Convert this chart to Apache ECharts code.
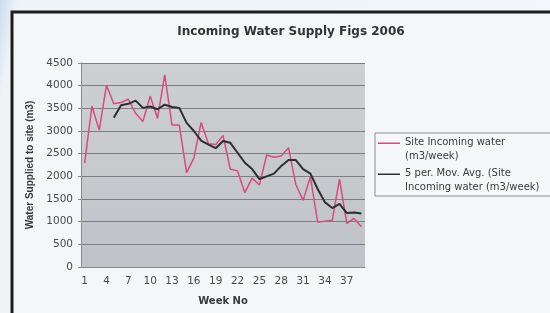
<!DOCTYPE html>
<html>
<head>
<meta charset="utf-8">
<script src="https://cdn.jsdelivr.net/npm/echarts@6/dist/echarts.min.js"></script>
<style>
    html, body { margin: 0; padding: 0; }
    body {
        width: 550px;
        height: 313px;
        overflow: hidden;
        background: linear-gradient(100deg, #c9dcec 0%, #eef3f8 3%, #f4f6f9 100%);
    }
    #chart { width: 550px; height: 313px; }
</style>
</head>
<body>
<div id="chart"></div>
<script>
// week numbers along the x axis
var weeks = [];
for (var w = 1; w <= 39; w++) weeks.push(String(w));

// Site incoming water (m3/week)
var incoming = [2290, 3550, 3020, 4010, 3600, 3630, 3700, 3390, 3210, 3770,
    3280, 4240, 3130, 3130, 2080, 2400, 3190, 2720, 2700, 2900,
    2160, 2120, 1640, 1960, 1810, 2470, 2420, 2450, 2630, 1820,
    1470, 1990, 990, 1010, 1030, 1940, 960, 1070, 890];

// 5 period moving average, starts at week 5
var movAvg = [null, null, null, null, 3290, 3570, 3600, 3670, 3510, 3540,
    3480, 3580, 3530, 3510, 3180, 3000, 2790, 2700, 2620, 2780,
    2740, 2520, 2300, 2160, 1940, 2000, 2060, 2230, 2360, 2360,
    2160, 2060, 1720, 1430, 1300, 1390, 1190, 1200, 1180];

var legendNames = ['Site Incoming water\n(m3/week)', '5 per. Mov. Avg. (Site\nIncoming water (m3/week)'];

var chart = echarts.init(document.getElementById('chart'));

var font = 'DejaVu Sans, Verdana, sans-serif';

chart.setOption({
    animation: false,
    textStyle: { fontFamily: font },
    title: {
        text: 'Incoming Water Supply Figs 2006',
        left: 286,
        top: 21,
        textAlign: 'center',
        textStyle: { fontSize: 12, fontWeight: 'bold', color: '#333', fontFamily: font }
    },
    legend: {
        left: 375,
        top: 133,
        orient: 'vertical',
        itemWidth: 22,
        itemHeight: 27,
        itemGap: 4,
        padding: [3, 16, 2, 3],
        borderColor: '#8c8c8c',
        borderWidth: 1,
        backgroundColor: '#f6f7f8',
        // short bar on the first text line, the empty moves only set the box
        icon: 'path://M0,0 L0.01,0 M0,5.9 L24,5.9 L24,7.6 L0,7.6 Z M0,27 L0.01,27',
        itemStyle: { borderWidth: 0 },
        textStyle: { fontSize: 10, color: '#3a3a3a', lineHeight: 13.5, fontFamily: font },
        data: legendNames
    },
    grid: { left: 81, right: 185, top: 63, bottom: 46 },
    xAxis: {
        type: 'category',
        data: weeks,
        name: 'Week No',
        nameLocation: 'middle',
        nameGap: 29,
        nameTextStyle: { fontSize: 10, fontWeight: 'bold', color: '#3a3a3a', fontFamily: font },
        axisLine: { lineStyle: { color: '#8a8a8a' } },
        axisTick: { interval: 0, length: 3, lineStyle: { color: '#8a8a8a' } },
        axisLabel: { interval: 2, fontSize: 10.5, color: '#4a4a4a', margin: 9 }
    },
    yAxis: {
        type: 'value',
        min: 0,
        max: 4500,
        interval: 500,
        name: 'Water Supplied to site (m3)',
        nameLocation: 'middle',
        nameGap: 46,
        nameTextStyle: { fontSize: 10, fontWeight: 'bold', color: '#3a3a3a', fontFamily: 'Liberation Sans, Arial, sans-serif' },
        axisLine: { show: true, lineStyle: { color: '#8a8a8a' } },
        axisTick: { show: true, length: 3, lineStyle: { color: '#8a8a8a' } },
        axisLabel: {
            fontSize: 10.5,
            color: '#4a4a4a',
            margin: 8,
            formatter: function (v) { return String(v); }
        },
        splitLine: { lineStyle: { color: '#7b7f83', width: 1.2 } }
    },
    series: [
        {
            name: legendNames[0],
            type: 'line',
            data: incoming,
            symbol: 'none',
            color: '#d84b7c',
            lineStyle: { width: 1.5, color: '#d84b7c' },
            z: 3
        },
        {
            name: legendNames[1],
            type: 'line',
            data: movAvg,
            symbol: 'none',
            color: '#2b302e',
            lineStyle: { width: 2, color: '#2b302e' },
            z: 4
        }
    ]
});

// white panel with the dark frame, and the gray plot area behind the grid
var rect = chart.getModel().getComponent('grid').coordinateSystem.getRect();
chart.setOption({
    graphic: [{
        type: 'rect',
        z: -10,
        shape: { x: 12, y: 12, width: 560, height: 320 },
        style: { fill: '#f5f6f8', stroke: '#1d1d1d', lineWidth: 3 }
    }, {
        type: 'rect',
        z: -5,
        shape: { x: rect.x, y: rect.y, width: rect.width, height: rect.height },
        style: {
            fill: new echarts.graphic.LinearGradient(0, 0, 0, 1, [
                { offset: 0, color: '#cdd0d3' },
                { offset: 1, color: '#bfc3c7' }
            ])
        }
    }]
});
</script>
</body>
</html>
